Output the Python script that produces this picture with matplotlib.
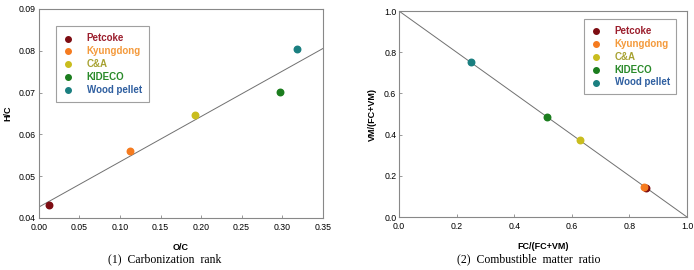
import numpy as np
import matplotlib.pyplot as plt

# fuel samples
fuels = ["Petcoke", "Kyungdong", "C&A", "KIDECO", "Wood pellet"]
marker_colors = ["#7d0c12", "#f57b1f", "#c9bd1e", "#1b7d1e", "#1a7f80"]
text_colors = ["#9c1f2e", "#f49a3c", "#a7a232", "#2a8a2a", "#2f5fa0"]

# (1) carbonization rank
oc = [0.013, 0.112, 0.193, 0.297, 0.318]
hc = [0.0431, 0.0559, 0.0645, 0.0702, 0.0803]

# (2) combustible matter ratio
fc_ratio = [0.858, 0.852, 0.628, 0.515, 0.249]
vm_ratio = [0.142, 0.148, 0.372, 0.485, 0.751]

plt.rcParams['font.family'] = ['Liberation Sans', 'DejaVu Sans']

fig = plt.figure(figsize=(6.94, 2.70), dpi=100)
ax1 = fig.add_axes([0.056, 0.193, 0.409, 0.774])
ax2 = fig.add_axes([0.575, 0.196, 0.415, 0.763])


def style(ax):
    for s in ax.spines.values():
        s.set_color("#888888")
        s.set_linewidth(0.8)
    ax.tick_params(direction="in", length=2.5, width=0.6, color="#888888",
                   labelsize=6.3, pad=2)
    ax.tick_params(axis="x", pad=3.5)


# regression line for O/C vs H/C
k, b = np.polyfit(oc, hc, 1)
xl = np.array([0, 0.35])
ax1.plot(xl, k * xl + b, color="#707070", lw=0.7, zorder=1)
for i in range(len(fuels)):
    ax1.scatter(oc[i], hc[i], s=22, color=marker_colors[i], label=fuels[i], zorder=3)
ax1.set_xlim(0, 0.35)
ax1.set_ylim(0.04, 0.09)
ax1.set_xticks(np.arange(0, 0.351, 0.05))
ax1.set_xticklabels([f"{v:.2f}" for v in np.arange(0, 0.351, 0.05)])
ax1.set_yticks(np.arange(0.04, 0.0901, 0.01))
ax1.set_yticklabels([f"{v:.2f}" for v in np.arange(0.04, 0.0901, 0.01)])
ax1.set_xlabel("O/C", fontsize=6.5, fontweight="bold", labelpad=8)
ax1.set_ylabel("H/C", fontsize=6.5, fontweight="bold", labelpad=5)
style(ax1)

# FC + VM = 1 line
xl2 = np.array([0, 1])
ax2.plot(xl2, 1 - xl2, color="#707070", lw=0.7, zorder=1)
for i in range(len(fuels)):
    ax2.scatter(fc_ratio[i], vm_ratio[i], s=22, color=marker_colors[i], label=fuels[i], zorder=3)
ax2.set_xlim(0, 1)
ax2.set_ylim(0, 1)
ax2.set_xticks(np.arange(0, 1.01, 0.2))
ax2.set_yticks(np.arange(0, 1.01, 0.2))
ax2.set_xticklabels([f"{v:.1f}" for v in np.arange(0, 1.01, 0.2)])
ax2.set_yticklabels([f"{v:.1f}" for v in np.arange(0, 1.01, 0.2)])
ax2.set_xlabel("FC/(FC+VM)", fontsize=6.5, fontweight="bold", labelpad=8)
ax2.set_ylabel("VM/(FC+VM)", fontsize=6.5, fontweight="bold", labelpad=5)
style(ax2)

for ax, loc, anchor in [(ax1, "upper left", (0.045, 0.94)), (ax2, "upper right", (0.98, 0.985))]:
    leg = ax.legend(loc=loc, bbox_to_anchor=anchor, fontsize=7, frameon=True,
                    fancybox=False, handletextpad=1.4, borderpad=0.7,
                    labelspacing=0.3, handlelength=1.0, scatterpoints=1,
                    markerscale=0.85)
    leg.get_frame().set_edgecolor("#888888")
    leg.get_frame().set_linewidth(0.8)
    for t, c in zip(leg.get_texts(), text_colors):
        t.set_color(c)
        t.set_fontweight("bold")

fig.text(0.238, 0.03, "(1)  Carbonization  rank", ha="center", fontsize=8.5,
         family=["Liberation Serif", "DejaVu Serif"])
fig.text(0.762, 0.03, "(2)  Combustible  matter  ratio", ha="center", fontsize=8.5,
         family=["Liberation Serif", "DejaVu Serif"])

fig.savefig("out.png", dpi=100)
